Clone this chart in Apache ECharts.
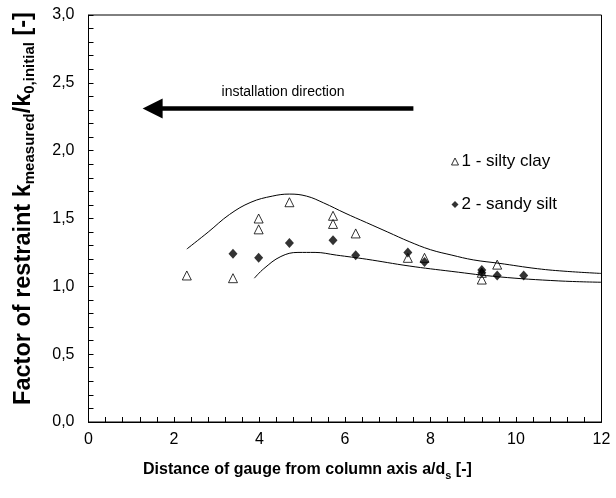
<!DOCTYPE html>
<html>
<head>
<meta charset="utf-8">
<script src="https://cdn.jsdelivr.net/npm/echarts@6/dist/echarts.min.js"></script>
<style>
  html, body { margin: 0; padding: 0; background: #fff; }
  #chart { width: 616px; height: 498px; }
</style>
</head>
<body>
<div id="chart"></div>
<script>
// Measured factor of restraint, 1 - silty clay
var clayX = [2.3, 3.38, 3.98, 3.98, 4.7, 5.72, 5.72, 6.25, 7.47, 7.86, 9.2, 9.2, 9.56];
var clayY = [1.08, 1.06, 1.50, 1.42, 1.62, 1.52, 1.46, 1.39, 1.21, 1.21, 1.05, 1.10, 1.16];

// Measured factor of restraint, 2 - sandy silt
var siltX = [3.38, 3.98, 4.7, 5.72, 6.25, 7.47, 7.86, 9.2, 9.2, 9.56, 10.18];
var siltY = [1.24, 1.21, 1.32, 1.34, 1.23, 1.25, 1.18, 1.12, 1.10, 1.08, 1.08];

// Upper envelope curve
var upperX = [2.3, 2.8, 3.3, 3.8, 4.3, 4.7, 5.1, 5.5, 6.0, 6.5, 7.0, 7.5, 8.0, 8.5, 9.0, 9.6, 10.5, 11.2, 12.0];
var upperY = [1.275, 1.40, 1.53, 1.62, 1.665, 1.68, 1.665, 1.615, 1.54, 1.47, 1.40, 1.33, 1.27, 1.23, 1.195, 1.17, 1.13, 1.11, 1.095];

// Lower envelope curve
var lowerX = [3.88, 4.1, 4.5, 4.9, 5.3, 5.8, 6.5, 7.5, 8.5, 9.6, 11.0, 12.0];
var lowerY = [1.06, 1.13, 1.22, 1.25, 1.25, 1.23, 1.20, 1.15, 1.11, 1.07, 1.04, 1.03];

// Installation direction arrow (x from head to tail, y level)
var arrowX = [1.5, 7.6];
var arrowY = 2.31;

// Tick labels
var xTickLabels = ['0', '2', '4', '6', '8', '10', '12'];
var yTickLabels = ['0,0', '0,5', '1,0', '1,5', '2,0', '2,5', '3,0'];

var legendNames = ['1 - silty clay', '2 - sandy silt'];

function pairs(xs, ys) {
  return xs.map(function (x, i) { return [x, ys[i]]; });
}

var FONT = '"Liberation Sans", Arial, sans-serif';

var chart = echarts.init(document.getElementById('chart'), null, { renderer: 'canvas' });

chart.setOption({
  animation: false,
  backgroundColor: '#fff',
  textStyle: { fontFamily: FONT, color: '#000' },
  grid: {
    left: 88.5, right: 14.5, top: 15, bottom: 76,
    show: true, borderColor: '#000', borderWidth: 1, backgroundColor: 'transparent'
  },
  legend: {
    orient: 'vertical',
    left: 446, top: 148,
    itemGap: 26,
    itemWidth: 7, itemHeight: 7,
    textStyle: { fontFamily: FONT, fontSize: 17, color: '#000', padding: [0, 0, 0, -2] },
    data: [
      { name: legendNames[0], icon: 'triangle', itemStyle: { color: '#fff', borderColor: '#000', borderWidth: 1 } },
      { name: legendNames[1], icon: 'diamond', itemStyle: { color: '#000' } }
    ]
  },
  graphic: [
    {
      type: 'text', left: 143, top: 462, silent: true,
      style: {
        text: '{a|Distance of gauge from column axis a/d}{s|s}{a| [-]}',
        rich: {
          a: { fontFamily: FONT, fontSize: 16, fontWeight: 'bold', fill: '#000', lineHeight: 20 },
          s: { fontFamily: FONT, fontSize: 11, fontWeight: 'bold', fill: '#000', lineHeight: 20, verticalAlign: 'bottom', padding: [0, 0, -1, 0] }
        }
      }
    }
  ],
  xAxis: {
    type: 'value', min: 0, max: 12, interval: 2,
    axisLine: { show: true, lineStyle: { color: '#000', width: 1 } },
    axisTick: { show: true, inside: true, length: 5, lineStyle: { color: '#000' } },
    minorTick: { show: true, splitNumber: 5, length: 5, lineStyle: { color: '#000' } },
    splitLine: { show: false },
    axisLabel: {
      margin: 10, fontSize: 16, color: '#000', fontFamily: FONT,
      formatter: function (v) { return xTickLabels[Math.round(v / 2)]; }
    }
  },
  yAxis: {
    type: 'value', min: 0, max: 3, interval: 0.5,
    axisLine: { show: true, lineStyle: { color: '#000', width: 1 } },
    axisTick: { show: true, inside: true, length: 5, lineStyle: { color: '#000' } },
    minorTick: { show: true, splitNumber: 5, length: 5, lineStyle: { color: '#000' } },
    splitLine: { show: false },
    axisLabel: {
      margin: 14, fontSize: 16, color: '#000', fontFamily: FONT,
      formatter: function (v) { return yTickLabels[Math.round(v * 2)]; }
    },
    name: '{a|Factor of restraint k}{s|measured}{a|/k}{s|0,initial}{a| [-]}',
    nameLocation: 'middle', nameGap: 52, nameRotate: 90,
    nameTextStyle: {
      padding: [0, 0, 0, 20],
      rich: {
        a: { fontFamily: FONT, fontSize: 23.5, fontWeight: 'bold', color: '#000', lineHeight: 26 },
        s: { fontFamily: FONT, fontSize: 15, fontWeight: 'bold', color: '#000', lineHeight: 26, verticalAlign: 'bottom', padding: [0, 0, -1, 0] }
      }
    }
  },
  series: [
    {
      name: 'upper', type: 'line', smooth: 0.4, showSymbol: false, silent: true,
      lineStyle: { color: '#000', width: 1 },
      data: pairs(upperX, upperY)
    },
    {
      name: 'lower', type: 'line', smooth: 0.4, showSymbol: false, silent: true,
      lineStyle: { color: '#000', width: 1 },
      data: pairs(lowerX, lowerY)
    },
    {
      name: 'direction', type: 'line', data: [], silent: true,
      markLine: {
        silent: true,
        symbol: ['triangle', 'none'],
        symbolSize: [20, 20],
        lineStyle: { color: '#000', width: 4.5, type: 'solid' },
        itemStyle: { color: '#000' },
        label: {
          show: true, position: 'insideMiddleTop', distance: 9,
          formatter: 'installation direction',
          fontFamily: FONT, fontSize: 14, color: '#000'
        },
        data: [[
          { coord: [arrowX[0], arrowY] },
          { coord: [arrowX[1], arrowY] }
        ]]
      }
    },
    {
      name: legendNames[0], type: 'scatter', symbol: 'triangle', symbolSize: [9, 9],
      itemStyle: { color: '#fff', borderColor: '#000', borderWidth: 1 },
      data: pairs(clayX, clayY)
    },
    {
      name: legendNames[1], type: 'scatter', symbol: 'diamond', symbolSize: [9, 10],
      itemStyle: { color: '#000' },
      data: pairs(siltX, siltY)
    }
  ]
});
</script>
</body>
</html>
